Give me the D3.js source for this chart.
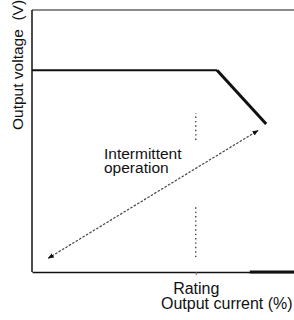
<!DOCTYPE html>
<html>
<head>
  <script src="https://d3js.org/d3.v7.min.js"></script>
  <style>
    body { margin: 0; background: #fff; }
    * { font-family: "Liberation Sans", Arial, sans-serif; }
    .label { font-size: 15.5px; fill: #111; }
  </style>
</head>
<body>
<script>
  // output current (%) vs output voltage (%)
  const currentPct = [0, 113, 143];
  const voltagePct = [77, 77, 56.5];
  const arrowCurrent = [10, 138];
  const arrowVoltage = [5.3, 54];
  const ratingValue = 100;
  const ratingDots = [[50.4, 60.7], [5.7, 24.8]];
  const tickLabels = ["Rating"];

  const margin = {top: 10, right: 0, bottom: 48, left: 32},
        W = 294, H = 320,
        width = W - margin.left - margin.right,
        height = H - margin.top - margin.bottom;

  const svg = d3.select("body").append("svg")
    .attr("width", W).attr("height", H);

  const defs = svg.append("defs");
  defs.append("marker")
    .attr("id", "ah").attr("viewBox", "0 0 10 10")
    .attr("refX", 9).attr("refY", 5)
    .attr("markerWidth", 5).attr("markerHeight", 5)
    .attr("orient", "auto-start-reverse")
    .append("path").attr("d", "M0,1L10,5L0,9Z").attr("fill", "#111");

  const g = svg.append("g")
    .attr("transform", "translate(" + margin.left + "," + margin.top + ")");

  const x = d3.scaleLinear().domain([0, 160]).range([0, width]);
  const y = d3.scaleLinear().domain([0, 100]).range([height, 0]);

  // frame: top grey line, left axis
  g.append("line")
    .attr("x1", 0).attr("x2", width).attr("y1", 0).attr("y2", 0)
    .attr("stroke", "#666").attr("stroke-width", 1.5);
  g.append("line")
    .attr("x1", 0).attr("x2", 0).attr("y1", 0).attr("y2", height)
    .attr("stroke", "#111").attr("stroke-width", 1.5);

  // bottom axis
  const xAxis = g.append("g")
    .attr("transform", "translate(0," + height + ")")
    .call(d3.axisBottom(x).tickValues([ratingValue])
      .tickFormat((d, i) => tickLabels[i]).tickSize(3).tickSizeOuter(0).tickPadding(5));
  xAxis.select(".domain").attr("stroke", "#111").attr("stroke-width", 1.5);
  xAxis.selectAll(".tick line").attr("stroke", "#666");
  xAxis.selectAll("text")
    .style("font-size", "16px").attr("fill", "#111").attr("dy", "0.85em");
  // heavier stretch of the axis at the right
  g.append("line")
    .attr("x1", x(133)).attr("x2", width)
    .attr("y1", height).attr("y2", height)
    .attr("stroke", "#111").attr("stroke-width", 3);

  // rating dotted marker
  g.selectAll(".rdot").data(ratingDots).enter().append("line")
    .attr("x1", x(ratingValue)).attr("x2", x(ratingValue))
    .attr("y1", d => y(d[0])).attr("y2", d => y(d[1]))
    .attr("stroke", "#444").attr("stroke-width", 1.4)
    .attr("stroke-dasharray", "1.4,3");

  // characteristic curve
  const pts = currentPct.map((c, i) => [c, voltagePct[i]]);
  g.append("path")
    .attr("d", d3.line().x(d => x(d[0])).y(d => y(d[1]))(pts.slice(0, 2)))
    .attr("fill", "none").attr("stroke", "#111").attr("stroke-width", 2);
  g.append("path")
    .attr("d", d3.line().x(d => x(d[0])).y(d => y(d[1]))(pts.slice(1)))
    .attr("fill", "none").attr("stroke", "#111").attr("stroke-width", 3)
    .attr("stroke-linejoin", "miter");

  // intermittent operation arrow
  g.append("line")
    .attr("x1", x(arrowCurrent[0])).attr("y1", y(arrowVoltage[0]))
    .attr("x2", x(arrowCurrent[1])).attr("y2", y(arrowVoltage[1]))
    .attr("stroke", "#444").attr("stroke-width", 1.2)
    .attr("stroke-dasharray", "2.5,1.5")
    .attr("marker-start", "url(#ah)").attr("marker-end", "url(#ah)");

  g.append("text").attr("class", "label")
    .attr("x", 72).attr("y", 149).text("Intermittent");
  g.append("text").attr("class", "label")
    .attr("x", 72).attr("y", 163).text("operation");

  // axis titles
  svg.append("text").attr("class", "label").style("font-size", "16px")
    .attr("x", 161).attr("y", 309).text("Output current (%)");
  svg.append("text").attr("class", "label")
    .attr("transform", "translate(23,130) rotate(-90)")
    .attr("xml:space", "preserve")
    .text("Output voltage  (V)");
</script>
</body>
</html>
